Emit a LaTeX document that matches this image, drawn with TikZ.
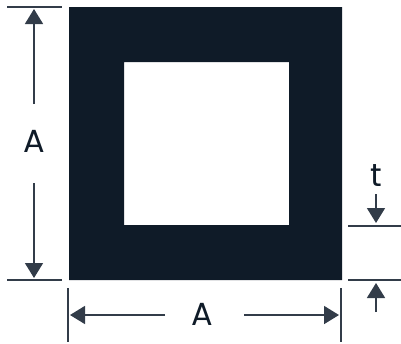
\documentclass[tikz,border=0pt]{standalone}
\usepackage{fontspec}
\setmainfont{Poppins}
\usetikzlibrary{arrows.meta}
\definecolor{bar}{HTML}{0F1B28}
\definecolor{dim}{HTML}{323C49}
\tikzset{
  x=1pt,y=-1pt,
  dimline/.style={draw=dim,line width=1.3pt},
  dimarrow/.style={draw=dim,line width=1.6pt,-{Triangle[length=15pt,width=18pt,fill=dim]}},
  lab/.style={text=bar,inner sep=0pt,font=\fontsize{32}{32}\selectfont}
}
\begin{document}
\begin{tikzpicture}
\useasboundingbox (0,0) rectangle (401,343);
\fill[bar,even odd rule] (69,7) rectangle (342,280) (124,62) rectangle (289,225);
% extension line end points
\coordinate (tl1) at (7,7); \coordinate (tl2) at (62,7);
\coordinate (bl1) at (7,280); \coordinate (bl2) at (62,280);
\coordinate (lb1) at (68,288); \coordinate (lb2) at (68,342);
\coordinate (rb1) at (341,288); \coordinate (rb2) at (341,342);
\coordinate (rt1) at (348,226); \coordinate (rt2) at (401,226);
\coordinate (rm1) at (348,280); \coordinate (rm2) at (401,280);
\draw[dimline] (tl1)--(tl2);
\draw[dimline] (bl1)--(bl2);
\draw[dimline] (lb1)--(lb2);
\draw[dimline] (rb1)--(rb2);
\draw[dimline] (rt1)--(rt2);
\draw[dimline] (rm1)--(rm2);
% labels
\node[lab] (av) at (34,141) {A};
\node[lab] (ah) at (202,314) {A};
\node[lab] (t) at (376,176) {t};
% arrows
\coordinate (a1) at (34,104); \coordinate (a2) at (34,9);
\coordinate (a3) at (34,183); \coordinate (a4) at (34,278);
\coordinate (a5) at (165,315); \coordinate (a6) at (70,315);
\coordinate (a7) at (244,315); \coordinate (a8) at (339,315);
\coordinate (a9) at (376,194); \coordinate (a10) at (376,223);
\coordinate (a11) at (376,312); \coordinate (a12) at (376,283);
\draw[dimarrow] (a1)--(a2);
\draw[dimarrow] (a3)--(a4);
\draw[dimarrow] (a5)--(a6);
\draw[dimarrow] (a7)--(a8);
\draw[dimarrow] (a9)--(a10);
\draw[dimarrow] (a11)--(a12);
\end{tikzpicture}
\end{document}
